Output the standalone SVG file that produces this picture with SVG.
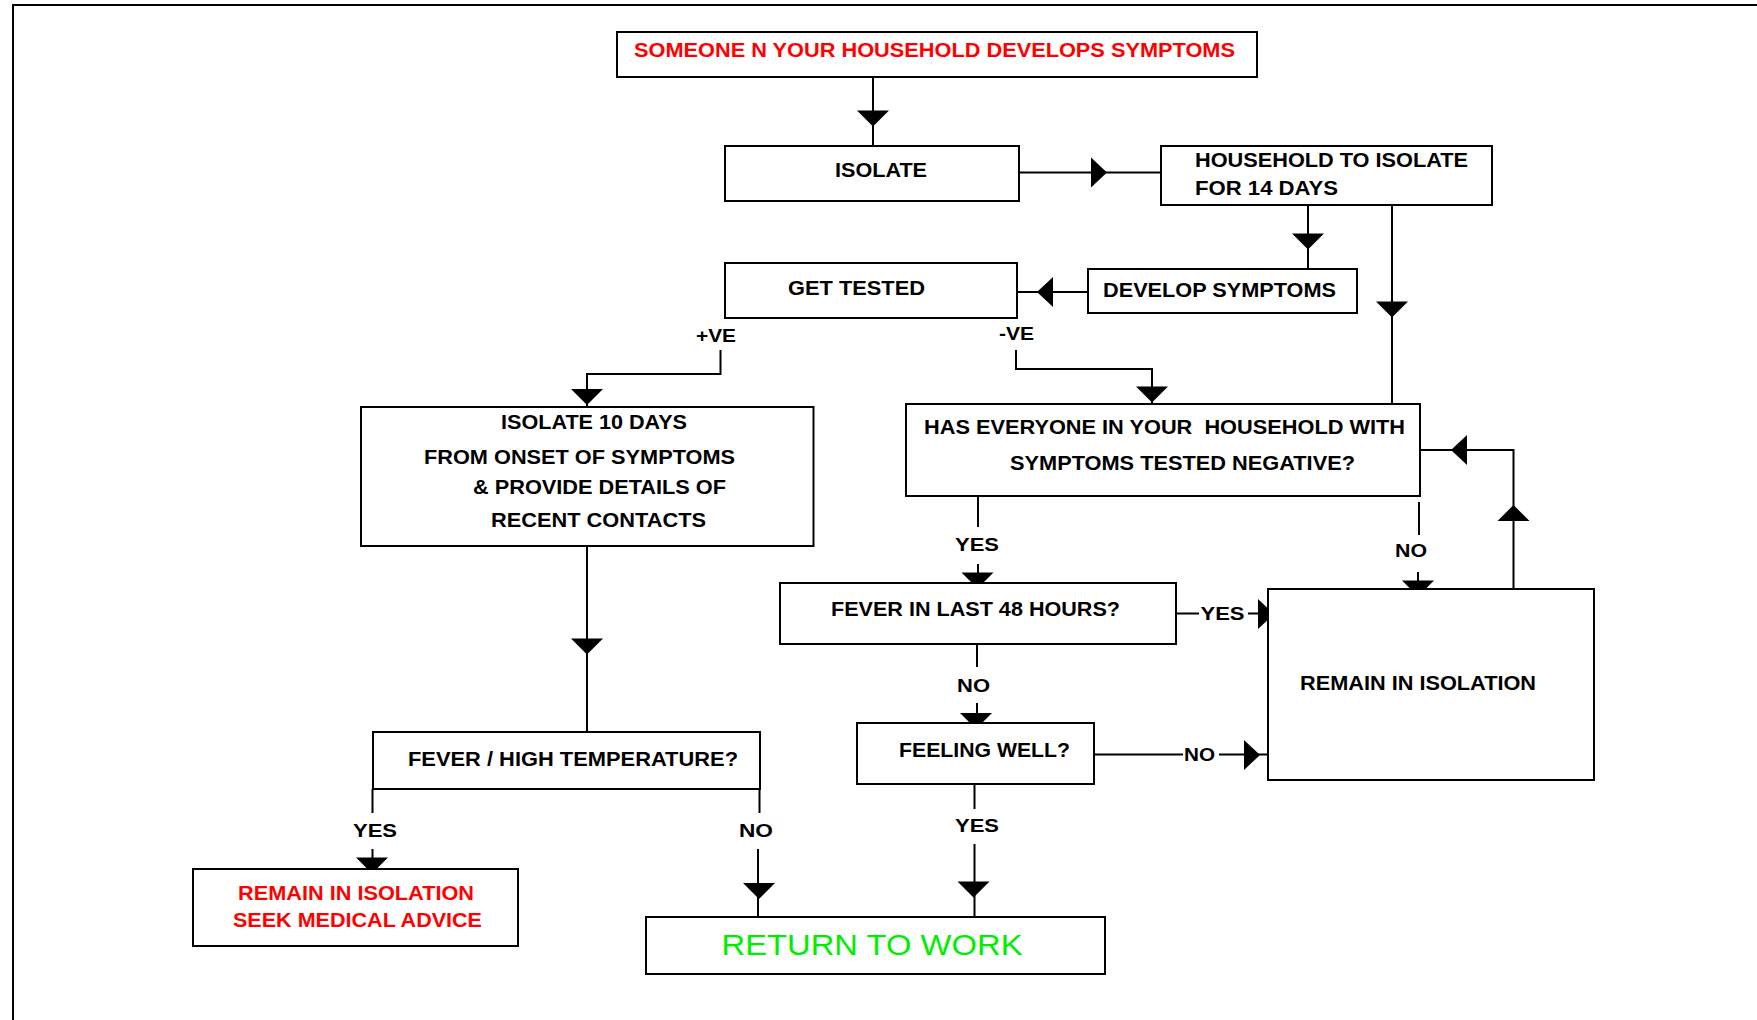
<svg xmlns="http://www.w3.org/2000/svg" xmlns:xlink="http://www.w3.org/1999/xlink" width="1757" height="1020" viewBox="0 0 1757 1020">
<style>
.box{fill:#fff;stroke:#000;stroke-width:2}
.ln{fill:none;stroke:#000;stroke-width:2}
.t{font-family:"Liberation Sans",Arial,sans-serif;font-size:20px;font-weight:bold;fill:#000}
.lb{font-family:"Liberation Sans",Arial,sans-serif;font-size:19px;font-weight:bold;fill:#000}
.red{fill:#ff0000}
.grn{font-family:"Liberation Sans",Arial,sans-serif;font-size:29px;fill:#00ee00}
</style>
<defs>
<path id="ad" d="M-16,-8 H16 L0,8 Z"/>
<path id="au" d="M-16,8 H16 L0,-8 Z"/>
<path id="ar" d="M-8,-15 V15 L8,0 Z"/>
<path id="al" d="M8,-15 V15 L-8,0 Z"/>
</defs>
<rect x="13" y="5" width="1760" height="1030" fill="#fff" stroke="#000" stroke-width="2"/>
<g id="connectors">
<path class="ln" d="M873,77 V146"/>
<path class="ln" d="M1019,172.5 H1161"/>
<path class="ln" d="M1308,205 V269"/>
<path class="ln" d="M1392,201 V404"/>
<path class="ln" d="M1088,292 H1017"/>
<path class="ln" d="M720.5,350 V374 H587 V407"/>
<path class="ln" d="M1016,350 V369 H1152 V404"/>
<path class="ln" d="M587,546 V732"/>
<path class="ln" d="M1420,450 H1513.5 V589"/>
<path class="ln" d="M1419,502 V535 M1418,572 V589"/>
<path class="ln" d="M978,496 V527 M978,564 V583"/>
<path class="ln" d="M1176,613.5 H1199 M1248,613.5 H1268"/>
<path class="ln" d="M977,644 V667 M977,703 V723"/>
<path class="ln" d="M1094,754.5 H1183 M1219,754.5 H1268"/>
<path class="ln" d="M372.5,789 V813 M372.5,849 V869"/>
<path class="ln" d="M759.5,789 V813 M758,849 V917"/>
<path class="ln" d="M974.5,784 V809 M974.5,844 V917"/>
<use xlink:href="#ad" x="873" y="118.5"/>
<use xlink:href="#ar" x="1099" y="172.5"/>
<use xlink:href="#ad" x="1308" y="241.5"/>
<use xlink:href="#ad" x="1392" y="309.5"/>
<use xlink:href="#al" x="1045" y="292"/>
<use xlink:href="#ad" x="587" y="397"/>
<use xlink:href="#ad" x="1152" y="394.5"/>
<use xlink:href="#ad" x="587" y="646.5"/>
<use xlink:href="#al" x="1459" y="450"/>
<use xlink:href="#au" x="1513.5" y="513"/>
<use xlink:href="#ad" x="1418" y="588.5"/>
<use xlink:href="#ad" x="977.5" y="580.5"/>
<use xlink:href="#ar" x="1266" y="614"/>
<use xlink:href="#ad" x="976" y="721"/>
<use xlink:href="#ar" x="1252" y="755"/>
<use xlink:href="#ad" x="372" y="865.5"/>
<use xlink:href="#ad" x="759" y="891"/>
<use xlink:href="#ad" x="973.5" y="889.5"/>
<text class="lb" x="696" y="342" textLength="40" lengthAdjust="spacingAndGlyphs">+VE</text>
<text class="lb" x="999" y="340" textLength="35" lengthAdjust="spacingAndGlyphs">-VE</text>
<text class="lb" x="955" y="550.7" textLength="44" lengthAdjust="spacingAndGlyphs">YES</text>
<text class="lb" x="1395" y="557.3" textLength="32" lengthAdjust="spacingAndGlyphs">NO</text>
<text class="lb" x="1200.5" y="620" textLength="44" lengthAdjust="spacingAndGlyphs">YES</text>
<text class="lb" x="957" y="691.7" textLength="33" lengthAdjust="spacingAndGlyphs">NO</text>
<text class="lb" x="1184" y="761" textLength="31" lengthAdjust="spacingAndGlyphs">NO</text>
<text class="lb" x="353" y="836.7" textLength="44" lengthAdjust="spacingAndGlyphs">YES</text>
<text class="lb" x="739" y="836.7" textLength="34" lengthAdjust="spacingAndGlyphs">NO</text>
<text class="lb" x="955" y="832.3" textLength="44" lengthAdjust="spacingAndGlyphs">YES</text>
</g>
<g id="n-someone">
<rect class="box" x="617" y="32" width="640" height="45"/>
<text class="t red" x="634" y="57.3" textLength="601" lengthAdjust="spacingAndGlyphs">SOMEONE N YOUR HOUSEHOLD DEVELOPS SYMPTOMS</text>
</g>
<g id="n-isolate">
<rect class="box" x="725" y="146" width="294" height="55"/>
<text class="t" x="835" y="177.3" textLength="92" lengthAdjust="spacingAndGlyphs">ISOLATE</text>
</g>
<g id="n-household">
<rect class="box" x="1161" y="146" width="331" height="59"/>
<text class="t" x="1195" y="166.7" textLength="273" lengthAdjust="spacingAndGlyphs">HOUSEHOLD TO ISOLATE</text>
<text class="t" x="1195" y="195" textLength="143" lengthAdjust="spacingAndGlyphs">FOR 14 DAYS</text>
</g>
<g id="n-gettested">
<rect class="box" x="725" y="263" width="292" height="55"/>
<text class="t" x="788" y="295" textLength="137" lengthAdjust="spacingAndGlyphs">GET TESTED</text>
</g>
<g id="n-develop">
<rect class="box" x="1088" y="269" width="269" height="44"/>
<text class="t" x="1103" y="297" textLength="233" lengthAdjust="spacingAndGlyphs">DEVELOP SYMPTOMS</text>
</g>
<g id="n-isolate10">
<rect class="box" x="361" y="407" width="452.5" height="139"/>
<text class="t" x="501" y="429.3" textLength="186" lengthAdjust="spacingAndGlyphs">ISOLATE 10 DAYS</text>
<text class="t" x="424" y="464" textLength="311" lengthAdjust="spacingAndGlyphs">FROM ONSET OF SYMPTOMS</text>
<text class="t" x="473" y="494" textLength="253" lengthAdjust="spacingAndGlyphs">&amp; PROVIDE DETAILS OF</text>
<text class="t" x="491" y="526.7" textLength="215" lengthAdjust="spacingAndGlyphs">RECENT CONTACTS</text>
</g>
<g id="n-haseveryone">
<rect class="box" x="906" y="404" width="514" height="92"/>
<text class="t" x="924" y="434" textLength="481" lengthAdjust="spacingAndGlyphs" xml:space="preserve">HAS EVERYONE IN YOUR  HOUSEHOLD WITH</text>
<text class="t" x="1010" y="470" textLength="345" lengthAdjust="spacingAndGlyphs">SYMPTOMS TESTED NEGATIVE?</text>
</g>
<g id="n-fever48">
<rect class="box" x="780" y="583" width="396" height="61"/>
<text class="t" x="831" y="616" textLength="289" lengthAdjust="spacingAndGlyphs">FEVER IN LAST 48 HOURS?</text>
</g>
<g id="n-remain">
<rect class="box" x="1268" y="589" width="326" height="191"/>
<text class="t" x="1300" y="689.5" textLength="236" lengthAdjust="spacingAndGlyphs">REMAIN IN ISOLATION</text>
</g>
<g id="n-feeling">
<rect class="box" x="857" y="723" width="237" height="61"/>
<text class="t" x="899" y="756.7" textLength="171" lengthAdjust="spacingAndGlyphs">FEELING WELL?</text>
</g>
<g id="n-feverhigh">
<rect class="box" x="373" y="732" width="387" height="57"/>
<text class="t" x="408" y="766" textLength="330" lengthAdjust="spacingAndGlyphs">FEVER / HIGH TEMPERATURE?</text>
</g>
<g id="n-seekadvice">
<rect class="box" x="193" y="869" width="325" height="77"/>
<text class="t red" x="238" y="900" textLength="236" lengthAdjust="spacingAndGlyphs">REMAIN IN ISOLATION</text>
<text class="t red" x="233" y="926.7" textLength="249" lengthAdjust="spacingAndGlyphs">SEEK MEDICAL ADVICE</text>
</g>
<g id="n-return">
<rect class="box" x="646" y="917" width="459" height="57"/>
<text class="grn" x="721.5" y="955" textLength="301" lengthAdjust="spacingAndGlyphs">RETURN TO WORK</text>
</g>
</svg>
